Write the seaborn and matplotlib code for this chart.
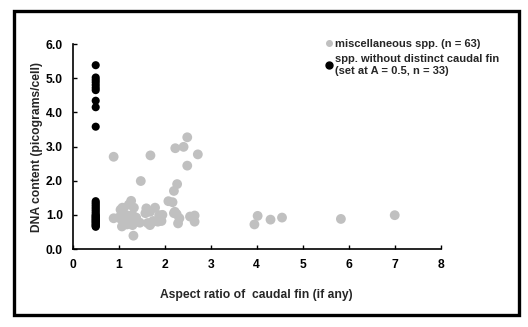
import matplotlib
matplotlib.use("Agg")
import matplotlib.pyplot as plt
from matplotlib.patches import Rectangle
from matplotlib.lines import Line2D
import seaborn as sns
import pandas as pd

misc_x = [0.89, 1.69, 2.23, 2.41, 2.49, 2.72, 2.49, 1.48, 2.27, 2.20,
          3.95, 4.02, 4.30, 4.55, 5.83, 7.00,
          1.27, 1.22, 1.08, 1.33, 1.04, 0.89, 1.00, 1.10, 1.15, 1.20,
          1.25, 1.12, 1.18, 1.07, 1.30, 1.32, 1.30, 1.60, 1.79, 1.68,
          1.58, 1.88, 1.95, 1.90, 1.46, 1.63, 1.68, 1.72, 1.85, 1.93,
          2.08, 2.17, 2.22, 2.26, 2.32, 2.29, 2.55, 2.65, 2.65, 1.13,
          1.22, 1.05, 1.38, 1.75, 2.20, 1.16, 1.10]
misc_y = [2.70, 2.74, 2.95, 2.99, 3.27, 2.77, 2.44, 1.99, 1.90, 1.70,
          0.72, 0.97, 0.86, 0.92, 0.88, 0.99,
          1.41, 1.30, 1.21, 1.21, 1.15, 0.90, 0.92, 0.95, 0.85, 0.98,
          0.88, 0.78, 0.72, 0.66, 0.70, 0.39, 0.99, 1.19, 1.21, 1.09,
          1.05, 0.99, 1.00, 0.90, 0.77, 0.76, 0.70, 0.78, 0.80, 0.82,
          1.40, 1.37, 1.09, 1.02, 0.90, 0.75, 0.95, 0.98, 0.80, 1.00,
          0.80, 0.88, 0.92, 0.82, 1.05, 0.93, 1.18]

nofin_y = [0.65, 0.67, 0.70, 0.72, 0.75, 0.78, 0.80, 0.83, 0.85, 0.88,
           0.90, 0.93, 0.95, 0.98, 1.00, 1.05, 1.10, 1.15, 1.20, 1.25,
           1.30, 1.35, 1.40,
           3.58, 4.15, 4.34, 4.65, 4.72, 4.80, 4.88, 4.95, 5.02, 5.38]
nofin_x = [0.5] * len(nofin_y)

label_misc = "miscellaneous spp. (n = 63)"
label_nofin = "spp. without distinct caudal fin\n(set at A = 0.5, n = 33)"

df = pd.DataFrame({
    "x": misc_x + nofin_x,
    "y": misc_y + nofin_y,
    "group": [label_misc] * len(misc_x) + [label_nofin] * len(nofin_x),
})

sns.set_style("white")
plt.rcParams["font.family"] = ["Liberation Sans", "DejaVu Sans"]
plt.rcParams["font.weight"] = "bold"
FS = 8.7

fig = plt.figure(figsize=(5.28, 3.27), dpi=100)
ax = fig.add_axes([0.1377, 0.2385, 0.6970, 0.6269])

sns.scatterplot(data=df[df.group == label_misc], x="x", y="y", ax=ax,
                color="#c0c0c0", s=50, edgecolor="none", marker="o",
                legend=False)
sns.scatterplot(data=df[df.group == label_nofin], x="x", y="y", ax=ax,
                color="black", s=34, edgecolor="none", marker="o",
                legend=False)

ax.set_xlim(0, 8)
ax.set_ylim(0, 6)
ax.set_xticks(range(0, 9))
ax.set_yticks([0, 1, 2, 3, 4, 5, 6])
ax.set_yticklabels([f"{v:.1f}" for v in range(0, 7)])
for s in ["top", "right"]:
    ax.spines[s].set_visible(False)
for s in ["left", "bottom"]:
    ax.spines[s].set_color("black")
    ax.spines[s].set_linewidth(1.2)
ax.tick_params(direction="in", length=3, width=1, colors="black",
               labelsize=FS, pad=7, left=True, bottom=True)
for lab in ax.get_xticklabels() + ax.get_yticklabels():
    lab.set_fontweight("bold")
ax.set_xlabel("Aspect ratio of  caudal fin (if any)", fontsize=FS,
              fontweight="bold", labelpad=13)
ax.set_ylabel("DNA content (picograms/cell)", fontsize=FS,
              fontweight="bold", labelpad=2)

handles = [Line2D([], [], marker="o", color="#c0c0c0", linestyle="none", markersize=4),
           Line2D([], [], marker="o", color="black", linestyle="none", markersize=5)]
fig.legend(handles, [label_misc, label_nofin], loc="upper left",
           bbox_to_anchor=(0.608, 0.895), frameon=False,
           prop={"size": 8.0, "weight": "bold"}, handlelength=0.6,
           handletextpad=0.3, labelspacing=0.5, borderaxespad=0)

fig.patches.append(Rectangle((13.5 / 528, 1 - 315 / 327), (519 - 13.5) / 528,
                             (315 - 10.5) / 327, transform=fig.transFigure,
                             fill=False, edgecolor="black", linewidth=2.4))

fig.savefig("out.png", dpi=100)
